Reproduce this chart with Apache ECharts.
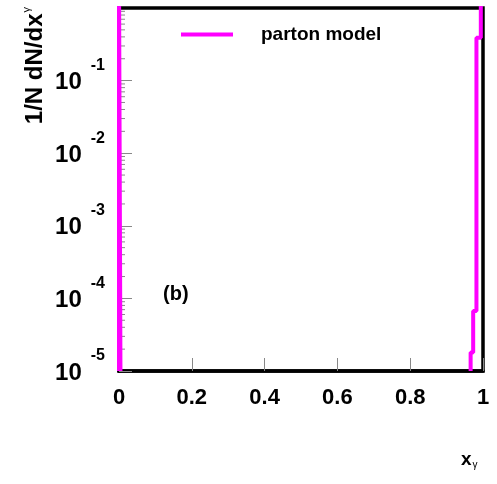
<!DOCTYPE html>
<html><head><meta charset="utf-8">
<script src="https://cdn.jsdelivr.net/npm/echarts@6/dist/echarts.min.js"></script>
<style>html,body{margin:0;padding:0;background:#fff}#c{width:497px;height:484px}</style>
</head><body><div id="c"></div>
<script>
// ---- data ----
const xTickValues = [0, 0.2, 0.4, 0.6, 0.8, 1];
const yDecadeExponents = [-5, -4, -3, -2, -1, 0];
const yMinorMultipliers = [2, 3, 4, 5, 6, 7, 8, 9];
const spikeEdges = [0, 0.004];
const spikeValues = [3.0];
const binEdges = [0.966, 0.973, 0.982, 0.994, 1.0];
const binValues = [1.8e-5, 6.7e-5, 0.39, 3.0];
const seriesName = 'parton model';
const panelLabel = '(b)';
const Y_MIN = 1e-5, Y_MAX = 1;

const FONT = "'Liberation Sans', Arial, Helvetica, sans-serif";
const MAGENTA = '#ff00ff';

function outline(edges, values, dropAtEnd) {
  const pts = [[edges[0], Y_MIN]];
  for (let i = 0; i < values.length; i++) {
    pts.push([edges[i], values[i]]);
    pts.push([edges[i + 1], values[i]]);
  }
  if (dropAtEnd) pts.push([edges[edges.length - 1], Y_MIN]);
  return pts;
}

const minorTickValues = [];
yDecadeExponents.slice(0, -1).forEach(e =>
  yMinorMultipliers.forEach(m => minorTickValues.push(m * Math.pow(10, e))));

const chart = echarts.init(document.getElementById('c'), null, {renderer: 'canvas'});
chart.setOption({
  animation: false,
  backgroundColor: '#fff',
  textStyle: {fontFamily: FONT},
  grid: {left: 119, top: 8, width: 364, height: 363, show: true, borderColor: '#000', borderWidth: 3.5, backgroundColor: 'transparent'},
  legend: {
    data: [{name: seriesName, icon: 'rect'}],
    left: 176, top: 20, itemWidth: 52, itemHeight: 4,
    textStyle: {fontSize: 19, fontWeight: 'bold', fontFamily: FONT, color: '#000', padding: [0, 0, 0, 23]}
  },
  xAxis: {
    type: 'value', min: xTickValues[0], max: xTickValues[xTickValues.length - 1], interval: 0.2,
    axisLine: {show: true, lineStyle: {color: '#000', width: 3.5}},
    axisTick: {show: true, inside: true, length: 13, lineStyle: {color: '#888', width: 1}},
    splitLine: {show: false},
    axisLabel: {
      margin: 16, fontSize: 22, fontWeight: 'bold', color: '#000', fontFamily: FONT,
      formatter: v => String(+(+v).toFixed(1))
    }
  },
  yAxis: {
    type: 'log', logBase: 10, min: Y_MIN, max: Y_MAX, interval: 1,
    axisLine: {show: true, lineStyle: {color: '#000', width: 3.5}},
    axisTick: {show: true, inside: true, length: 13, lineStyle: {color: '#888', width: 1}},
    splitLine: {show: false},
    axisLabel: {
      margin: 14, showMaxLabel: false, color: '#000', fontFamily: FONT,
      formatter: v => '{b|10}{s|' + Math.round(Math.log10(v)) + '}',
      rich: {
        b: {fontSize: 24, fontWeight: 'bold', fontFamily: FONT, color: '#000', padding: [4, 0, 0, 0]},
        s: {fontSize: 16, fontWeight: 'bold', fontFamily: FONT, color: '#000', padding: [0, 0, 30, 9]}
      }
    }
  },
  series: [
    {
      name: 'minor ticks', type: 'custom', silent: true, z: 1,
      data: minorTickValues.map(v => [0, v]),
      encode: {x: 0, y: 1},
      renderItem: (params, api) => {
        const p = api.coord([api.value(0), api.value(1)]);
        return {type: 'line', shape: {x1: p[0], y1: p[1], x2: p[0] + 6, y2: p[1]},
                style: {stroke: '#888', lineWidth: 1}};
      }
    },
    {
      name: seriesName, type: 'line', z: 3, symbol: 'none', color: MAGENTA,
      lineStyle: {color: MAGENTA, width: 4}, data: outline(spikeEdges, spikeValues, true)
    },
    {
      name: seriesName, type: 'line', z: 3, symbol: 'none', color: MAGENTA,
      lineStyle: {color: MAGENTA, width: 4}, data: outline(binEdges, binValues, false)
    }
  ],
  graphic: [
    {type: 'text', left: 163, top: 284, style: {text: panelLabel, fontSize: 20, fontWeight: 'bold', fontFamily: FONT, fill: '#000'}},
    {type: 'text', x: 461, y: 470, style: {
      text: '{a|x}{g|γ}', align: 'left', verticalAlign: 'bottom',
      rich: {a: {fontSize: 19, fontWeight: 'bold', fontFamily: FONT, fill: '#000', color: '#000'},
             g: {fontSize: 10, fontFamily: FONT, color: '#000', padding: [10, 0, 0, 1]}}}},
    {type: 'text', x: 35, y: 7, rotation: Math.PI / 2, style: {
      text: '{a|1/N dN/dx}{g|γ}', align: 'right', verticalAlign: 'middle',
      rich: {a: {fontSize: 24, fontWeight: 'bold', fontFamily: FONT, color: '#000'},
             g: {fontSize: 11, fontFamily: FONT, color: '#000', padding: [0, 0, 16, 1]}}}}
  ]
});
</script></body></html>
